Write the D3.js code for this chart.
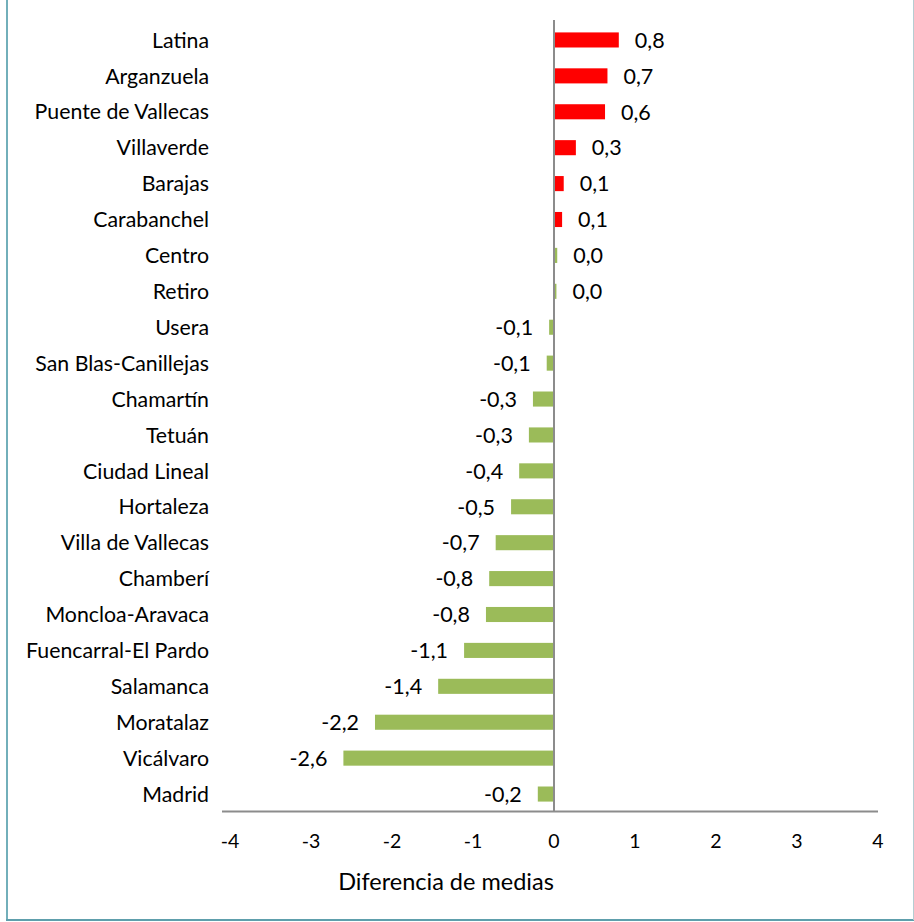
<!DOCTYPE html>
<html><head><meta charset="utf-8">
<script src="https://cdn.jsdelivr.net/npm/d3@7"></script>
<style>body{margin:0;background:#fff}svg{display:block}</style>
</head><body>
<script>
const categories = ["Latina","Arganzuela","Puente de Vallecas","Villaverde","Barajas","Carabanchel","Centro","Retiro","Usera","San Blas-Canillejas","Chamartín","Tetuán","Ciudad Lineal","Hortaleza","Villa de Vallecas","Chamberí","Moncloa-Aravaca","Fuencarral-El Pardo","Salamanca","Moratalaz","Vicálvaro","Madrid"];
const values = [0.80,0.66,0.63,0.27,0.12,0.10,0.04,0.03,-0.06,-0.09,-0.26,-0.31,-0.43,-0.53,-0.72,-0.80,-0.84,-1.11,-1.43,-2.21,-2.60,-0.20];
const xTicks = [-4,-3,-2,-1,0,1,2,3,4];
const axisTitle = "Diferencia de medias";

const W = 914, H = 922;
const svg = d3.select("body").append("svg").attr("width", W).attr("height", H);
const font = "Lato, 'Open Sans', sans-serif";

// frame
svg.append("line").attr("x1",7).attr("x2",7).attr("y1",0).attr("y2",921).attr("stroke","#72AFBA").attr("stroke-width",2);
svg.append("line").attr("x1",6).attr("x2",914).attr("y1",920).attr("y2",920).attr("stroke","#5E9FAC").attr("stroke-width",2);
svg.append("line").attr("x1",913.5).attr("x2",913.5).attr("y1",0).attr("y2",920).attr("stroke","#B5CDD2").attr("stroke-width",1);

const x = d3.scaleLinear().domain([-4,4]).range([230,878]);
const y = d3.scaleBand().domain(categories).range([22,812]).paddingInner(0.58).paddingOuter(0.29);

// bars
svg.selectAll("rect.bar").data(values).enter().append("rect")
  .attr("x", d => x(Math.min(0,d)))
  .attr("width", d => Math.abs(x(d)-x(0)))
  .attr("y", (d,i) => y(categories[i]))
  .attr("height", y.bandwidth())
  .attr("fill", d => d > 0.05 ? "#FF0000" : "#9BBB59");

// axis line
svg.append("line").attr("x1",222).attr("x2",878).attr("y1",811.5).attr("y2",811.5).attr("stroke","#8C8C8C").attr("stroke-width",2);
// zero line
svg.append("line").attr("x1",x(0)).attr("x2",x(0)).attr("y1",20).attr("y2",812).attr("stroke","#8C8C8C").attr("stroke-width",2);

const fmt = d => d3.format(".1f")(d).replace(".",",").replace("−","-");

// value labels
svg.selectAll("text.val").data(values).enter().append("text")
  .attr("x", d => d >= 0 ? x(d) + 16 : x(d) - 16)
  .attr("y", (d,i) => y(categories[i]) + y.bandwidth()/2)
  .attr("dy","0.36em")
  .attr("text-anchor", d => d >= 0 ? "start" : "end")
  .attr("font-family", font).attr("font-size", 21.5).attr("fill","#000")
  .text(d => fmt(d));

// category labels
svg.selectAll("text.cat").data(categories).enter().append("text")
  .attr("x", 209)
  .attr("y", d => y(d) + y.bandwidth()/2)
  .attr("dy","0.36em")
  .attr("text-anchor","end")
  .attr("font-family", font).attr("font-size", 21.3).attr("fill","#000")
  .text(d => d);

// x tick labels
svg.selectAll("text.tick").data(xTicks).enter().append("text")
  .attr("x", d => x(d))
  .attr("y", 848)
  .attr("text-anchor","middle")
  .attr("font-family", font).attr("font-size", 19.5).attr("fill","#000")
  .text(d => String(d));

svg.append("text").attr("x",446).attr("y",890)
  .attr("text-anchor","middle")
  .attr("font-family", font).attr("font-size", 23.5).attr("fill","#000")
  .text(axisTitle);
</script>
</body></html>
